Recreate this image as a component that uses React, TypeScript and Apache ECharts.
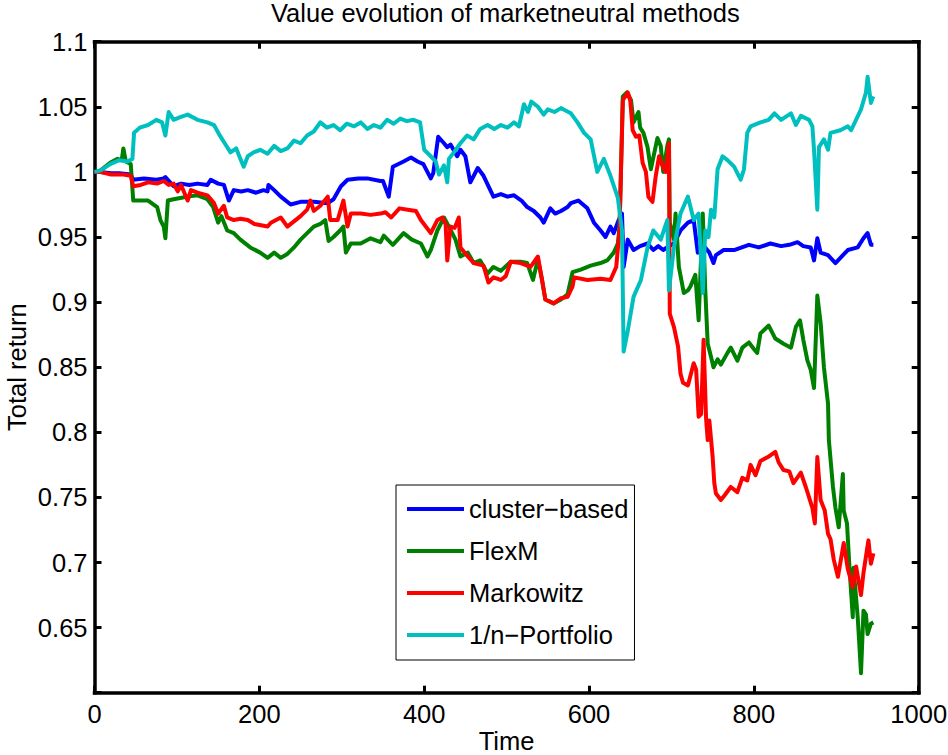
import React, { useEffect, useRef } from "react";
import * as echarts from "echarts";

// Portfolio value over time for four market-neutral strategies ([time, total return]).
const clusterBased: [number, number][] = [
  [0, 1.0], [7, 1.0], [20, 0.999], [30, 0.999], [44, 0.998], [47, 0.994], [60, 0.995], [75, 0.994],
  [84, 0.995], [86, 0.996], [96, 0.989], [105, 0.991], [115, 0.99], [125, 0.991], [137, 0.99], [141, 0.994],
  [150, 0.991], [157, 0.99], [163, 0.978], [169, 0.986], [178, 0.985], [186, 0.986], [196, 0.984], [205, 0.986],
  [210, 0.985], [211, 0.99], [218, 0.986], [226, 0.981], [238, 0.975], [250, 0.977], [266, 0.977], [283, 0.976],
  [290, 0.979], [299, 0.989], [307, 0.994], [320, 0.995], [331, 0.995], [347, 0.993], [350, 0.993], [357, 0.981],
  [362, 1.004], [375, 1.008], [384, 1.011], [392, 1.008], [399, 1.006], [408, 0.995], [411, 0.999], [417, 1.027],
  [424, 1.022], [428, 1.019], [432, 1.021], [440, 1.012], [444, 1.017], [450, 1.012], [456, 0.992], [465, 1.003],
  [472, 0.997], [484, 0.981], [493, 0.983], [501, 0.981], [509, 0.982], [518, 0.978], [525, 0.973], [533, 0.97],
  [541, 0.965], [545, 0.961], [553, 0.972], [559, 0.968], [566, 0.97], [574, 0.973], [578, 0.976], [587, 0.978],
  [598, 0.972], [606, 0.961], [614, 0.955], [620, 0.95], [626, 0.958], [630, 0.953], [636, 0.963], [640, 0.968],
  [642, 0.927], [647, 0.948], [654, 0.94], [662, 0.943], [671, 0.945], [678, 0.94], [684, 0.943], [690, 0.94],
  [697, 0.943], [703, 0.945], [711, 0.955], [720, 0.961], [727, 0.963], [732, 0.938], [738, 0.944], [746, 0.938],
  [751, 0.93], [754, 0.936], [763, 0.94], [776, 0.94], [794, 0.944], [806, 0.942], [820, 0.945], [833, 0.943],
  [843, 0.944], [853, 0.946], [860, 0.943], [869, 0.942], [873, 0.932], [877, 0.949], [881, 0.938], [890, 0.936],
  [899, 0.93], [905, 0.934], [914, 0.94], [926, 0.942], [933, 0.949], [938, 0.953], [942, 0.944], [945, 0.944],
];

const flexM: [number, number][] = [
  [0, 1.0], [7, 1.001], [19, 1.007], [28, 1.01], [33, 1.009], [35, 1.018], [38, 1.008], [44, 1.006],
  [47, 0.978], [56, 0.978], [65, 0.978], [76, 0.973], [80, 0.963], [84, 0.958], [86, 0.949], [89, 0.978],
  [96, 0.979], [104, 0.98], [113, 0.981], [125, 0.982], [137, 0.979], [144, 0.973], [150, 0.961], [154, 0.966],
  [161, 0.955], [169, 0.953], [177, 0.948], [189, 0.942], [201, 0.938], [210, 0.934], [218, 0.938], [226, 0.934],
  [234, 0.937], [242, 0.942], [250, 0.948], [258, 0.953], [266, 0.958], [274, 0.96], [280, 0.963], [284, 0.947],
  [290, 0.95], [298, 0.955], [302, 0.958], [305, 0.938], [311, 0.945], [323, 0.945], [335, 0.949], [347, 0.946],
  [351, 0.951], [362, 0.944], [375, 0.953], [385, 0.948], [396, 0.945], [404, 0.935], [408, 0.94], [416, 0.955],
  [424, 0.965], [430, 0.958], [438, 0.948], [444, 0.935], [453, 0.938], [460, 0.93], [468, 0.932], [477, 0.922],
  [484, 0.927], [493, 0.924], [505, 0.931], [517, 0.931], [525, 0.93], [532, 0.917], [538, 0.933], [543, 0.917],
  [547, 0.902], [557, 0.899], [566, 0.902], [574, 0.906], [580, 0.923], [590, 0.925], [602, 0.928], [614, 0.93],
  [622, 0.932], [630, 0.938], [635, 0.945], [637, 0.958], [641, 1.058], [646, 1.061], [651, 1.055], [654, 1.038],
  [660, 1.046], [662, 1.034], [666, 1.03], [671, 1.019], [675, 1.002], [679, 1.014], [683, 1.026], [687, 1.02],
  [690, 1.0], [695, 1.02], [697, 1.025], [698, 0.961], [703, 0.948], [705, 0.968], [709, 0.927], [715, 0.907],
  [720, 0.909], [723, 0.912], [729, 0.921], [733, 0.886], [738, 0.968], [741, 0.91], [744, 0.868], [748, 0.858],
  [751, 0.85], [756, 0.856], [760, 0.852], [768, 0.861], [772, 0.865], [780, 0.855], [786, 0.865], [794, 0.869],
  [800, 0.864], [804, 0.861], [808, 0.876], [818, 0.882], [826, 0.872], [836, 0.868], [845, 0.865], [851, 0.881],
  [856, 0.886], [860, 0.871], [865, 0.855], [869, 0.848], [873, 0.834], [877, 0.905], [881, 0.884], [885, 0.85],
  [890, 0.822], [891, 0.794], [896, 0.758], [899, 0.742], [903, 0.727], [908, 0.768], [909, 0.74], [913, 0.73],
  [916, 0.696], [920, 0.658], [921, 0.696], [926, 0.658], [930, 0.615], [933, 0.663], [936, 0.66], [938, 0.645],
  [942, 0.653], [945, 0.654],
];

const markowitz: [number, number][] = [
  [0, 1.0], [7, 1.0], [20, 0.998], [35, 0.998], [44, 0.997], [47, 0.989], [56, 0.99], [65, 0.992],
  [76, 0.991], [84, 0.993], [90, 0.99], [96, 0.991], [101, 0.985], [105, 0.99], [113, 0.978], [117, 0.986],
  [125, 0.984], [137, 0.982], [145, 0.976], [150, 0.968], [157, 0.974], [161, 0.965], [169, 0.963], [177, 0.964],
  [186, 0.963], [194, 0.96], [202, 0.959], [210, 0.958], [214, 0.961], [226, 0.965], [234, 0.958], [242, 0.962],
  [250, 0.966], [258, 0.971], [262, 0.978], [266, 0.97], [274, 0.974], [283, 0.981], [286, 0.963], [295, 0.963],
  [302, 0.978], [307, 0.958], [311, 0.968], [323, 0.968], [335, 0.967], [347, 0.968], [353, 0.969], [360, 0.965],
  [370, 0.972], [380, 0.971], [390, 0.97], [396, 0.963], [408, 0.953], [416, 0.963], [422, 0.965], [426, 0.96],
  [428, 0.932], [432, 0.958], [437, 0.957], [442, 0.965], [444, 0.942], [453, 0.935], [460, 0.93], [472, 0.928],
  [478, 0.915], [484, 0.919], [493, 0.917], [499, 0.92], [505, 0.931], [517, 0.93], [529, 0.927], [538, 0.935],
  [543, 0.917], [547, 0.902], [557, 0.899], [566, 0.903], [574, 0.904], [580, 0.912], [582, 0.919], [598, 0.917],
  [614, 0.918], [626, 0.917], [633, 0.927], [637, 0.955], [641, 1.055], [647, 1.061], [650, 1.055], [653, 1.032],
  [657, 1.027], [661, 1.028], [665, 1.007], [669, 1.0], [672, 0.981], [677, 0.977], [681, 0.997], [685, 1.012],
  [689, 1.005], [693, 1.0], [697, 1.022], [698, 0.891], [703, 0.881], [708, 0.866], [711, 0.845], [714, 0.838],
  [720, 0.836], [727, 0.853], [730, 0.848], [733, 0.812], [736, 0.814], [739, 0.871], [742, 0.811], [744, 0.794],
  [746, 0.809], [750, 0.781], [752, 0.761], [754, 0.753], [760, 0.748], [765, 0.752], [772, 0.758], [780, 0.754],
  [786, 0.765], [792, 0.763], [796, 0.775], [802, 0.767], [808, 0.778], [817, 0.781], [826, 0.785], [830, 0.777],
  [836, 0.771], [843, 0.77], [848, 0.761], [857, 0.769], [863, 0.758], [871, 0.742], [874, 0.73], [877, 0.781],
  [881, 0.748], [886, 0.74], [890, 0.722], [893, 0.718], [897, 0.702], [902, 0.689], [905, 0.7], [909, 0.715],
  [914, 0.695], [920, 0.681], [924, 0.697], [930, 0.675], [933, 0.692], [939, 0.717], [942, 0.699], [945, 0.707],
];

const nPortfolio: [number, number][] = [
  [0, 1.0], [7, 1.001], [19, 1.006], [30, 1.009], [40, 1.008], [46, 1.01], [48, 1.03], [55, 1.034],
  [65, 1.036], [75, 1.04], [82, 1.038], [86, 1.028], [90, 1.046], [96, 1.04], [104, 1.042], [113, 1.044],
  [125, 1.04], [137, 1.038], [145, 1.036], [152, 1.028], [158, 1.022], [165, 1.015], [172, 1.018], [177, 1.01],
  [181, 1.004], [186, 1.012], [193, 1.015], [201, 1.017], [210, 1.014], [218, 1.02], [226, 1.016], [234, 1.018],
  [242, 1.024], [250, 1.022], [258, 1.028], [266, 1.031], [274, 1.038], [282, 1.034], [290, 1.036], [298, 1.032],
  [306, 1.037], [315, 1.035], [323, 1.038], [331, 1.033], [339, 1.036], [347, 1.034], [355, 1.04], [363, 1.037],
  [371, 1.041], [379, 1.039], [387, 1.04], [395, 1.038], [400, 1.017], [408, 1.012], [414, 1.008], [418, 0.998],
  [424, 1.005], [428, 0.992], [430, 1.01], [436, 1.015], [444, 1.022], [452, 1.028], [460, 1.025], [468, 1.033],
  [477, 1.036], [485, 1.033], [493, 1.036], [501, 1.034], [509, 1.038], [515, 1.035], [521, 1.052], [526, 1.046],
  [530, 1.054], [538, 1.05], [545, 1.044], [550, 1.048], [558, 1.046], [566, 1.049], [572, 1.047], [578, 1.045],
  [586, 1.038], [594, 1.03], [602, 1.025], [610, 1.0], [618, 1.01], [626, 0.997], [635, 0.98], [640, 0.955],
  [642, 0.862], [647, 0.878], [654, 0.904], [663, 0.917], [671, 0.942], [678, 0.955], [687, 0.948], [695, 0.963],
  [697, 0.909], [703, 0.942], [711, 0.968], [720, 0.981], [727, 0.963], [733, 0.968], [738, 0.907], [741, 0.955],
  [745, 0.95], [748, 0.971], [752, 0.965], [756, 1.002], [762, 1.012], [768, 1.009], [776, 1.004], [784, 0.994],
  [788, 1.002], [792, 1.03], [796, 1.035], [808, 1.038], [818, 1.04], [825, 1.045], [833, 1.04], [845, 1.045],
  [851, 1.036], [857, 1.043], [867, 1.04], [871, 1.035], [873, 1.017], [877, 0.971], [879, 1.019], [885, 1.025],
  [890, 1.017], [893, 1.03], [905, 1.032], [914, 1.035], [918, 1.032], [930, 1.048], [936, 1.061], [938, 1.073],
  [942, 1.053], [945, 1.058],
];

const seriesNames = ["cluster\u2212based", "FlexM", "Markowitz", "1/n\u2212Portfolio"];
const seriesColors = ["#0000ff", "#008000", "#ff0000", "#00bfbf"];
const seriesData = [clusterBased, flexM, markowitz, nPortfolio];

const FONT = '"Liberation Sans", Arial, Helvetica, sans-serif';
const FONT_SIZE = 25.5;

const axisLineStyle = { color: "#000", width: 3.5, cap: "square" as const };
const tickStyle = { inside: true, length: 7, lineStyle: { color: "#000", width: 3 } };

function xLabel(v: number): string {
  return String(Math.round(v));
}

function yLabel(v: number): string {
  if (Math.abs(v - 0.6) < 1e-6) return "";
  return String(Number(v.toFixed(2)));
}

export default function App() {
  const ref = useRef<HTMLDivElement>(null);

  useEffect(() => {
    if (!ref.current) return;
    const chart = echarts.init(ref.current, null, { renderer: "svg" });

    const xBase = { type: "value" as const, min: 0, max: 1000, interval: 200, splitLine: { show: false } };
    const yBase = { type: "value" as const, min: 0.6, max: 1.1, interval: 0.05, splitLine: { show: false } };
    const text = { fontFamily: FONT, fontSize: FONT_SIZE, color: "#000" };

    chart.setOption({
      animation: false,
      backgroundColor: "#fff",
      textStyle: { fontFamily: FONT, color: "#000" },
      title: {
        text: "Value evolution of marketneutral methods",
        left: 271,
        top: 0,
        padding: 0,
        textStyle: { ...text, fontWeight: "normal" },
      },
      grid: {
        left: 94.5,
        right: 29.3,
        top: 41.7,
        bottom: 62.3,
        containLabel: false,
        outerBoundsMode: "none",
      },
      legend: {
        orient: "vertical",
        left: 396,
        top: 485,
        padding: [11, 6, 12, 11],
        itemGap: 16,
        itemWidth: 57,
        itemHeight: 4,
        icon: "rect",
        backgroundColor: "#fff",
        borderColor: "#000",
        borderWidth: 1,
        borderRadius: 0,
        data: seriesNames,
        textStyle: { ...text, lineHeight: 25 },
      },
      xAxis: [
        {
          ...xBase,
          position: "bottom",
          name: "Time",
          nameLocation: "middle",
          nameGap: 35,
          nameMoveOverlap: false,
          nameTextStyle: text,
          axisLine: { onZero: false, lineStyle: axisLineStyle },
          axisTick: tickStyle,
          axisLabel: { ...text, margin: 8.5, formatter: xLabel },
        },
        {
          ...xBase,
          position: "top",
          axisLine: { onZero: false, lineStyle: axisLineStyle },
          axisTick: tickStyle,
          axisLabel: { show: false },
        },
      ],
      yAxis: [
        {
          ...yBase,
          position: "left",
          name: "Total return",
          nameLocation: "middle",
          nameGap: 65,
          nameMoveOverlap: false,
          nameTextStyle: text,
          axisLine: { onZero: false, lineStyle: axisLineStyle },
          axisTick: tickStyle,
          axisLabel: { ...text, margin: 7, formatter: yLabel },
        },
        {
          ...yBase,
          position: "right",
          axisLine: { onZero: false, lineStyle: axisLineStyle },
          axisTick: tickStyle,
          axisLabel: { show: false },
        },
      ],
      series: seriesNames.map((name, i) => ({
        name,
        type: "line",
        xAxisIndex: 0,
        yAxisIndex: 0,
        data: seriesData[i],
        symbol: "none",
        showSymbol: false,
        color: seriesColors[i],
        itemStyle: { color: seriesColors[i] },
        lineStyle: { color: seriesColors[i], width: 4, join: "round" },
        z: 2 + i,
      })),
    });

    return () => chart.dispose();
  }, []);

  return (
    <div
      ref={ref}
      style={{ position: "absolute", left: 0, top: 0, width: 948, height: 755, background: "#fff" }}
    />
  );
}
